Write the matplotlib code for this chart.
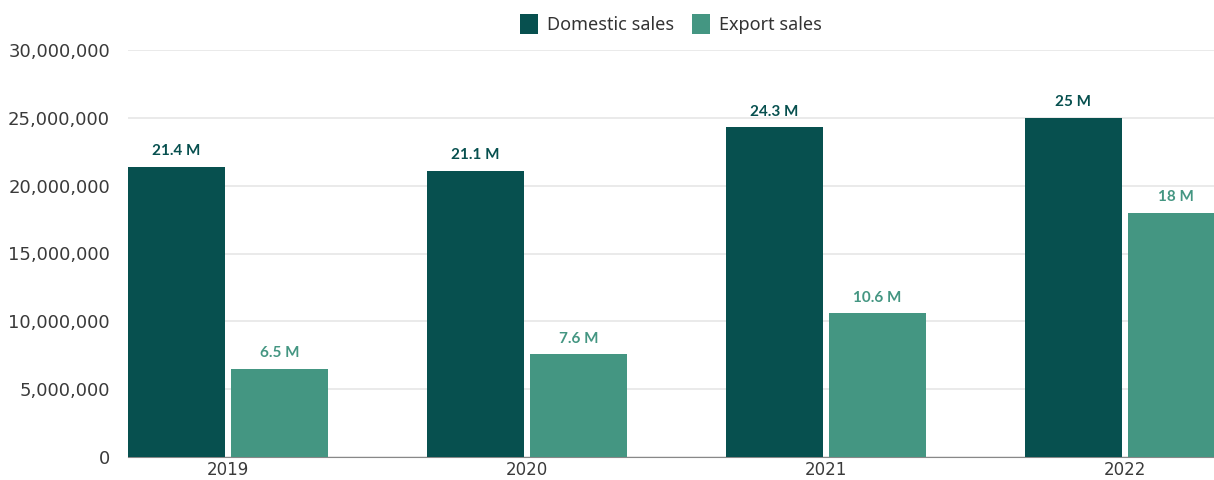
import matplotlib.pyplot as plt
import numpy as np
from matplotlib.ticker import FuncFormatter

years = ["2019", "2020", "2021", "2022"]
domestic = [21.4, 21.1, 24.3, 25.0]   # millions
export = [6.5, 7.6, 10.6, 18.0]
dom_labels = ["21.4 M", "21.1 M", "24.3 M", "25 M"]
exp_labels = ["6.5 M", "7.6 M", "10.6 M", "18 M"]

dom_color = "#07504f"
exp_color = "#449682"

fig = plt.figure(figsize=(12.14, 4.8), dpi=100)
ax = fig.add_axes([128 / 1214, 23 / 480, 1 - 128 / 1214, 407 / 480])

x = np.arange(len(years))
w = 0.324
off = 0.172
dom_vals = [v * 1e6 for v in domestic]
exp_vals = [v * 1e6 for v in export]
ax.bar(x - off, dom_vals, w, color=dom_color, label="Domestic sales", zorder=3)
ax.bar(x + off, exp_vals, w, color=exp_color, label="Export sales", zorder=3)

for i in range(len(years)):
    ax.annotate(dom_labels[i], (x[i] - off, dom_vals[i]), xytext=(0, 6),
                textcoords="offset points", ha="center", va="bottom",
                fontsize=11, fontweight="bold", color=dom_color, family="Lato")
    ax.annotate(exp_labels[i], (x[i] + off, exp_vals[i]), xytext=(0, 6),
                textcoords="offset points", ha="center", va="bottom",
                fontsize=11, fontweight="bold", color=exp_color, family="Lato")

ax.set_ylim(0, 30e6)
ax.set_yticks(np.arange(0, 30e6 + 1, 5e6))
ax.yaxis.set_major_formatter(FuncFormatter(lambda v, p: f"{int(v):,}"))
ax.set_xlim(-0.334, 3.298)
ax.set_xticks(x)
ax.set_xticklabels(years)

ax.grid(axis="y", color="#e6e6e6", linewidth=1.2, zorder=0)
for s in ["top", "right", "left"]:
    ax.spines[s].set_visible(False)
ax.spines["bottom"].set_color("#888888")
ax.tick_params(axis="y", length=0, pad=13, labelsize=13, labelcolor="#3a3a3a")
ax.tick_params(axis="x", length=0, pad=3, labelsize=12, labelcolor="#3a3a3a")
for lab in ax.get_yticklabels() + ax.get_xticklabels():
    lab.set_family("DejaVu Sans")

leg = ax.legend(loc="center", bbox_to_anchor=(0.5, 1.0 + 26 / 407), ncol=2,
                frameon=False, handlelength=1.0, handleheight=1.3,
                columnspacing=1.0, handletextpad=0.5,
                prop={"family": "Noto Sans", "size": 13})
for t in leg.get_texts():
    t.set_color("#333333")

fig.savefig("out.png", dpi=100)
